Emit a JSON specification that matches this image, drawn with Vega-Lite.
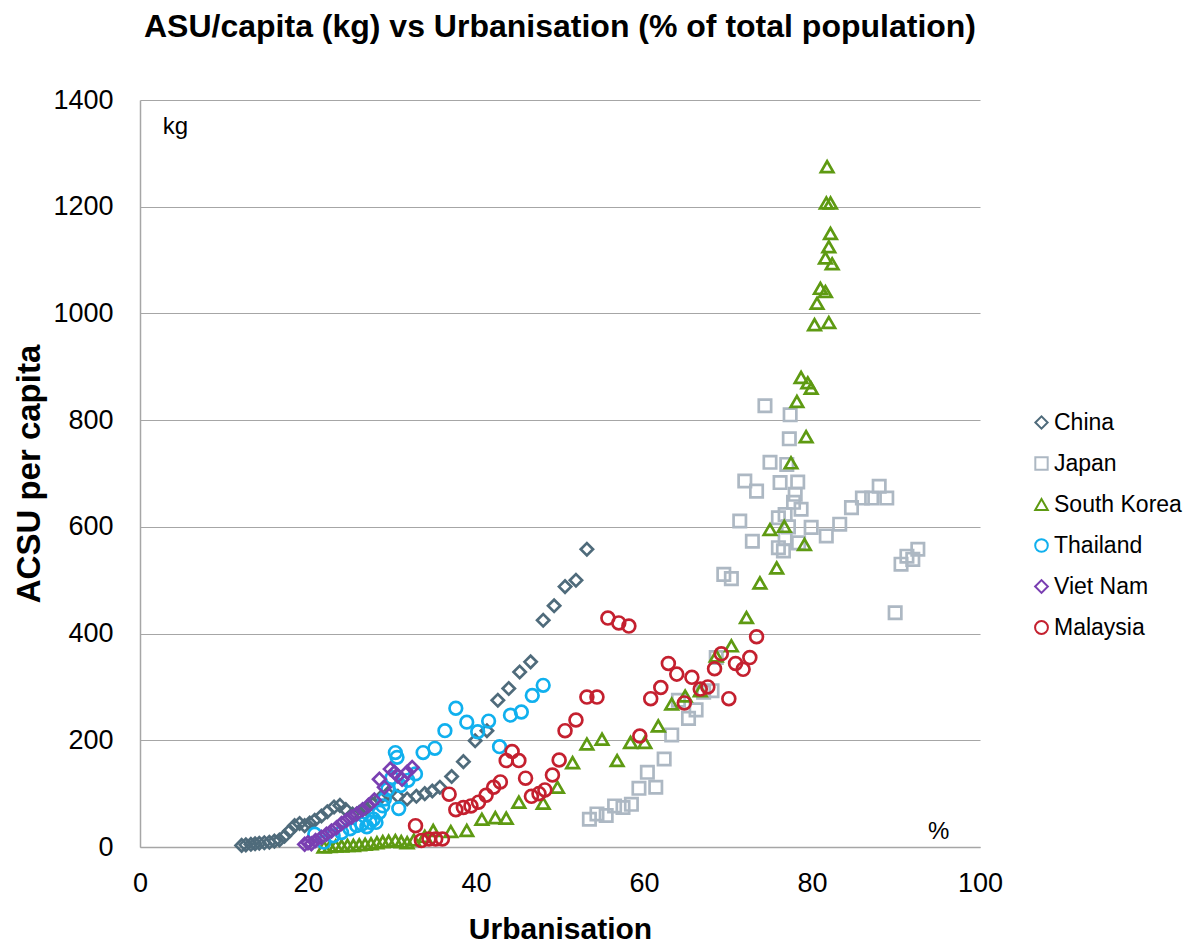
{
  "$schema": "https://vega.github.io/schema/vega-lite/v6.json",
  "autosize": "none",
  "width": 840,
  "height": 747,
  "padding": {"left": 140, "top": 100, "right": 204, "bottom": 100},
  "background": "white",
  "config": {
    "font": "Liberation Sans",
    "view": {"stroke": null},
    "axis": {"labelFont": "Liberation Sans", "titleFont": "Liberation Sans"}
  },
  "title": {
    "text": "ASU/capita (kg) vs Urbanisation (% of total population)",
    "font": "Liberation Sans",
    "fontSize": 32,
    "fontWeight": "bold",
    "color": "#000000",
    "anchor": "middle",
    "offset": 42
  },
  "datasets": {
    "pts": [
      {"c":"China","u":12.1,"a":3},{"c":"China","u":12.6,"a":4},{"c":"China","u":13.2,"a":5},{"c":"China","u":13.7,"a":6},{"c":"China","u":14.2,"a":7},{"c":"China","u":14.8,"a":8},{"c":"China","u":15.4,"a":9},{"c":"China","u":16.0,"a":11},{"c":"China","u":16.6,"a":13},{"c":"China","u":17.2,"a":20},{"c":"China","u":17.8,"a":30},{"c":"China","u":18.4,"a":40},{"c":"China","u":19.0,"a":44},{"c":"China","u":19.6,"a":40},{"c":"China","u":20.2,"a":45},{"c":"China","u":20.8,"a":50},{"c":"China","u":21.6,"a":58},{"c":"China","u":22.3,"a":66},{"c":"China","u":23.1,"a":75},{"c":"China","u":23.8,"a":78},{"c":"China","u":24.5,"a":70},{"c":"China","u":25.3,"a":62},{"c":"China","u":26.1,"a":65},{"c":"China","u":26.9,"a":72},{"c":"China","u":27.7,"a":80},{"c":"China","u":28.6,"a":92},{"c":"China","u":29.5,"a":100},{"c":"China","u":30.7,"a":95},{"c":"China","u":31.8,"a":90},{"c":"China","u":32.9,"a":95},{"c":"China","u":33.9,"a":100},{"c":"China","u":34.8,"a":105},{"c":"China","u":35.7,"a":112},{"c":"China","u":37.1,"a":132},{"c":"China","u":38.5,"a":160},{"c":"China","u":39.9,"a":199},{"c":"China","u":41.3,"a":218},{"c":"China","u":42.6,"a":275},{"c":"China","u":43.9,"a":297},{"c":"China","u":45.2,"a":328},{"c":"China","u":46.5,"a":347},{"c":"China","u":48.0,"a":425},{"c":"China","u":49.3,"a":452},{"c":"China","u":50.6,"a":488},{"c":"China","u":51.9,"a":500},{"c":"China","u":53.2,"a":558},
      {"c":"Japan","u":53.5,"a":52},{"c":"Japan","u":54.4,"a":62},{"c":"Japan","u":55.5,"a":59},{"c":"Japan","u":56.5,"a":77},{"c":"Japan","u":57.5,"a":74},{"c":"Japan","u":58.5,"a":80},{"c":"Japan","u":59.4,"a":110},{"c":"Japan","u":60.4,"a":140},{"c":"Japan","u":61.4,"a":112},{"c":"Japan","u":62.4,"a":165},{"c":"Japan","u":63.3,"a":210},{"c":"Japan","u":64.1,"a":275},{"c":"Japan","u":65.3,"a":241},{"c":"Japan","u":66.2,"a":257},{"c":"Japan","u":67.1,"a":290},{"c":"Japan","u":68.1,"a":293},{"c":"Japan","u":68.6,"a":355},{"c":"Japan","u":69.5,"a":511},{"c":"Japan","u":70.4,"a":503},{"c":"Japan","u":71.4,"a":611},{"c":"Japan","u":72.0,"a":686},{"c":"Japan","u":72.9,"a":573},{"c":"Japan","u":73.4,"a":667},{"c":"Japan","u":74.4,"a":827},{"c":"Japan","u":75.0,"a":721},{"c":"Japan","u":76.0,"a":617},{"c":"Japan","u":76.0,"a":561},{"c":"Japan","u":76.2,"a":683},{"c":"Japan","u":76.6,"a":555},{"c":"Japan","u":76.8,"a":578},{"c":"Japan","u":76.8,"a":623},{"c":"Japan","u":77.0,"a":717},{"c":"Japan","u":77.3,"a":765},{"c":"Japan","u":77.4,"a":810},{"c":"Japan","u":77.8,"a":646},{"c":"Japan","u":78.0,"a":661},{"c":"Japan","u":78.3,"a":684},{"c":"Japan","u":78.4,"a":570},{"c":"Japan","u":78.7,"a":633},{"c":"Japan","u":77.2,"a":600},{"c":"Japan","u":79.9,"a":599},{"c":"Japan","u":81.7,"a":583},{"c":"Japan","u":83.3,"a":605},{"c":"Japan","u":84.7,"a":636},{"c":"Japan","u":86.0,"a":654},{"c":"Japan","u":87.1,"a":654},{"c":"Japan","u":88.0,"a":676},{"c":"Japan","u":88.9,"a":654},{"c":"Japan","u":89.9,"a":439},{"c":"Japan","u":90.6,"a":530},{"c":"Japan","u":91.3,"a":545},{"c":"Japan","u":92.0,"a":539},{"c":"Japan","u":92.6,"a":558},
      {"c":"South Korea","u":21.9,"a":0},{"c":"South Korea","u":22.6,"a":1},{"c":"South Korea","u":23.3,"a":2},{"c":"South Korea","u":24.0,"a":2},{"c":"South Korea","u":24.7,"a":3},{"c":"South Korea","u":25.4,"a":3},{"c":"South Korea","u":26.1,"a":4},{"c":"South Korea","u":26.8,"a":5},{"c":"South Korea","u":27.5,"a":6},{"c":"South Korea","u":28.2,"a":8},{"c":"South Korea","u":28.9,"a":10},{"c":"South Korea","u":29.6,"a":11},{"c":"South Korea","u":30.4,"a":12},{"c":"South Korea","u":31.1,"a":10},{"c":"South Korea","u":31.8,"a":8},{"c":"South Korea","u":32.6,"a":13},{"c":"South Korea","u":33.9,"a":20},{"c":"South Korea","u":34.9,"a":31},{"c":"South Korea","u":37.0,"a":29},{"c":"South Korea","u":38.9,"a":31},{"c":"South Korea","u":40.7,"a":52},{"c":"South Korea","u":42.3,"a":55},{"c":"South Korea","u":43.6,"a":54},{"c":"South Korea","u":45.1,"a":84},{"c":"South Korea","u":48.0,"a":82},{"c":"South Korea","u":49.7,"a":112},{"c":"South Korea","u":51.5,"a":158},{"c":"South Korea","u":53.2,"a":193},{"c":"South Korea","u":55.0,"a":202},{"c":"South Korea","u":56.8,"a":162},{"c":"South Korea","u":58.4,"a":196},{"c":"South Korea","u":60.1,"a":196},{"c":"South Korea","u":61.7,"a":227},{"c":"South Korea","u":63.3,"a":268},{"c":"South Korea","u":64.9,"a":283},{"c":"South Korea","u":66.7,"a":293},{"c":"South Korea","u":68.6,"a":358},{"c":"South Korea","u":70.4,"a":377},{"c":"South Korea","u":72.2,"a":430},{"c":"South Korea","u":73.8,"a":495},{"c":"South Korea","u":75.8,"a":523},{"c":"South Korea","u":75.0,"a":595},{"c":"South Korea","u":76.7,"a":601},{"c":"South Korea","u":79.1,"a":567},{"c":"South Korea","u":77.5,"a":720},{"c":"South Korea","u":79.3,"a":769},{"c":"South Korea","u":78.2,"a":835},{"c":"South Korea","u":78.7,"a":880},{"c":"South Korea","u":79.5,"a":870},{"c":"South Korea","u":79.9,"a":860},{"c":"South Korea","u":80.3,"a":979},{"c":"South Korea","u":82.0,"a":983},{"c":"South Korea","u":80.6,"a":1019},{"c":"South Korea","u":81.0,"a":1047},{"c":"South Korea","u":81.6,"a":1041},{"c":"South Korea","u":81.6,"a":1104},{"c":"South Korea","u":82.4,"a":1093},{"c":"South Korea","u":82.0,"a":1125},{"c":"South Korea","u":82.2,"a":1150},{"c":"South Korea","u":81.7,"a":1207},{"c":"South Korea","u":82.2,"a":1207},{"c":"South Korea","u":81.8,"a":1275},
      {"c":"Thailand","u":20.8,"a":24},{"c":"Thailand","u":21.9,"a":9},{"c":"Thailand","u":23.0,"a":21},{"c":"Thailand","u":24.0,"a":27},{"c":"Thailand","u":25.0,"a":34},{"c":"Thailand","u":25.8,"a":40},{"c":"Thailand","u":26.4,"a":43},{"c":"Thailand","u":27.0,"a":38},{"c":"Thailand","u":27.4,"a":46},{"c":"Thailand","u":27.8,"a":52},{"c":"Thailand","u":28.1,"a":46},{"c":"Thailand","u":28.5,"a":65},{"c":"Thailand","u":28.9,"a":77},{"c":"Thailand","u":29.1,"a":90},{"c":"Thailand","u":29.5,"a":108},{"c":"Thailand","u":30.0,"a":130},{"c":"Thailand","u":30.4,"a":177},{"c":"Thailand","u":30.6,"a":168},{"c":"Thailand","u":30.8,"a":72},{"c":"Thailand","u":31.0,"a":115},{"c":"Thailand","u":31.9,"a":125},{"c":"Thailand","u":32.8,"a":137},{"c":"Thailand","u":33.7,"a":177},{"c":"Thailand","u":35.1,"a":185},{"c":"Thailand","u":36.3,"a":218},{"c":"Thailand","u":37.6,"a":260},{"c":"Thailand","u":38.9,"a":234},{"c":"Thailand","u":40.2,"a":216},{"c":"Thailand","u":41.5,"a":236},{"c":"Thailand","u":42.8,"a":188},{"c":"Thailand","u":44.1,"a":247},{"c":"Thailand","u":45.4,"a":253},{"c":"Thailand","u":46.7,"a":284},{"c":"Thailand","u":48.0,"a":303},
      {"c":"Viet Nam","u":19.6,"a":5},{"c":"Viet Nam","u":20.0,"a":8},{"c":"Viet Nam","u":20.4,"a":6},{"c":"Viet Nam","u":20.9,"a":12},{"c":"Viet Nam","u":21.6,"a":18},{"c":"Viet Nam","u":22.2,"a":24},{"c":"Viet Nam","u":22.8,"a":30},{"c":"Viet Nam","u":23.4,"a":36},{"c":"Viet Nam","u":24.0,"a":44},{"c":"Viet Nam","u":24.6,"a":50},{"c":"Viet Nam","u":25.2,"a":56},{"c":"Viet Nam","u":25.8,"a":62},{"c":"Viet Nam","u":26.5,"a":70},{"c":"Viet Nam","u":27.2,"a":78},{"c":"Viet Nam","u":27.9,"a":88},{"c":"Viet Nam","u":28.5,"a":127},{"c":"Viet Nam","u":29.1,"a":112},{"c":"Viet Nam","u":29.8,"a":146},{"c":"Viet Nam","u":30.3,"a":140},{"c":"Viet Nam","u":30.7,"a":133},{"c":"Viet Nam","u":31.2,"a":127},{"c":"Viet Nam","u":31.8,"a":140},{"c":"Viet Nam","u":32.4,"a":149},
      {"c":"Malaysia","u":32.8,"a":40},{"c":"Malaysia","u":33.5,"a":12},{"c":"Malaysia","u":34.4,"a":15},{"c":"Malaysia","u":35.2,"a":15},{"c":"Malaysia","u":36.0,"a":15},{"c":"Malaysia","u":36.8,"a":99},{"c":"Malaysia","u":37.6,"a":70},{"c":"Malaysia","u":38.5,"a":74},{"c":"Malaysia","u":39.4,"a":77},{"c":"Malaysia","u":40.3,"a":84},{"c":"Malaysia","u":41.2,"a":97},{"c":"Malaysia","u":42.1,"a":112},{"c":"Malaysia","u":42.9,"a":122},{"c":"Malaysia","u":43.6,"a":162},{"c":"Malaysia","u":44.3,"a":179},{"c":"Malaysia","u":45.1,"a":162},{"c":"Malaysia","u":45.9,"a":129},{"c":"Malaysia","u":46.6,"a":95},{"c":"Malaysia","u":47.5,"a":100},{"c":"Malaysia","u":48.2,"a":107},{"c":"Malaysia","u":49.1,"a":135},{"c":"Malaysia","u":49.9,"a":163},{"c":"Malaysia","u":50.6,"a":218},{"c":"Malaysia","u":51.9,"a":238},{"c":"Malaysia","u":53.2,"a":281},{"c":"Malaysia","u":54.4,"a":281},{"c":"Malaysia","u":55.7,"a":429},{"c":"Malaysia","u":57.0,"a":420},{"c":"Malaysia","u":58.2,"a":414},{"c":"Malaysia","u":59.5,"a":208},{"c":"Malaysia","u":60.8,"a":278},{"c":"Malaysia","u":62.0,"a":299},{"c":"Malaysia","u":62.9,"a":344},{"c":"Malaysia","u":63.9,"a":324},{"c":"Malaysia","u":64.8,"a":270},{"c":"Malaysia","u":65.7,"a":318},{"c":"Malaysia","u":66.7,"a":296},{"c":"Malaysia","u":67.6,"a":300},{"c":"Malaysia","u":68.4,"a":334},{"c":"Malaysia","u":69.2,"a":362},{"c":"Malaysia","u":70.1,"a":278},{"c":"Malaysia","u":70.9,"a":344},{"c":"Malaysia","u":71.8,"a":333},{"c":"Malaysia","u":72.6,"a":355},{"c":"Malaysia","u":73.4,"a":394}
    ],
    "notes": [
      {"u": 2.7, "a": 1349, "t": "kg"},
      {"u": 93.8, "a": 28, "t": "%"}
    ]
  },
  "layer": [
    {
      "data": {"name": "pts"},
      "mark": {"type": "point", "filled": false, "strokeWidth": 2.7, "opacity": 1},
      "encoding": {
        "x": {
          "field": "u", "type": "quantitative",
          "scale": {"domain": [0, 100], "nice": false, "zero": true},
          "axis": {
            "title": "Urbanisation", "titleFontSize": 30, "titleFontWeight": "bold", "titleColor": "#000000", "titlePadding": 18,
            "values": [0, 20, 40, 60, 80, 100], "format": "d", "labelFlush": false,
            "labelFontSize": 27, "labelColor": "#000000", "labelPadding": 23,
            "grid": false, "ticks": false, "domainColor": "#a6a6a6", "domainWidth": 1.5
          }
        },
        "y": {
          "field": "a", "type": "quantitative",
          "scale": {"domain": [0, 1400], "nice": false},
          "axis": {
            "title": "ACSU per capita", "titleFontSize": 33, "titleFontWeight": "bold", "titleColor": "#000000", "titlePadding": 6,
            "values": [0, 200, 400, 600, 800, 1000, 1200, 1400], "format": "d", "labelFlush": false,
            "labelFontSize": 27, "labelColor": "#000000", "labelPadding": 27,
            "grid": true, "gridColor": "#a6a6a6", "gridWidth": 1.2,
            "ticks": false, "domainColor": "#a6a6a6", "domainWidth": 1.5
          }
        },
        "size": {
          "field": "c", "type": "nominal",
          "scale": {
            "domain": ["China", "Japan", "South Korea", "Thailand", "Viet Nam", "Malaysia"],
            "range": [150, 165, 190, 150, 150, 150]
          },
          "legend": null
        },
        "color": {
          "field": "c", "type": "nominal",
          "scale": {
            "domain": ["China", "Japan", "South Korea", "Thailand", "Viet Nam", "Malaysia"],
            "range": ["#4f6b7b", "#adb8c3", "#5e9a12", "#10b0ee", "#7a3fb2", "#c4202f"]
          },
          "legend": {
            "title": null, "orient": "none", "legendX": 890, "legendY": 311,
            "labelFontSize": 23, "labelColor": "#000000", "labelFont": "Liberation Sans",
            "rowPadding": 17, "symbolSize": 110, "symbolStrokeWidth": 2, "labelOffset": 1
          }
        },
        "shape": {
          "field": "c", "type": "nominal",
          "scale": {
            "domain": ["China", "Japan", "South Korea", "Thailand", "Viet Nam", "Malaysia"],
            "range": ["diamond", "square", "triangle-up", "circle", "diamond", "circle"]
          },
          "legend": null
        }
      }
    },
    {
      "data": {"name": "notes"},
      "mark": {"type": "text", "align": "left", "baseline": "middle", "fontSize": 24, "font": "Liberation Sans", "color": "#000000"},
      "encoding": {
        "x": {"field": "u", "type": "quantitative"},
        "y": {"field": "a", "type": "quantitative"},
        "text": {"field": "t"}
      }
    }
  ]
}
